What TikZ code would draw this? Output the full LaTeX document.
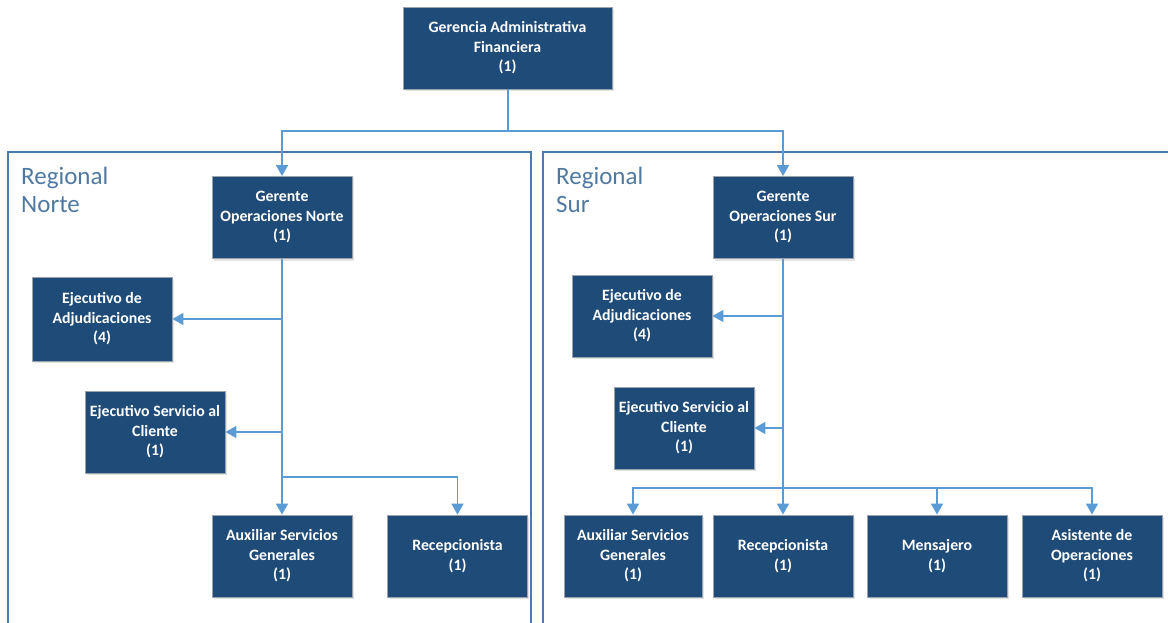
\documentclass[tikz,border=0pt]{standalone}
\usepackage{fontspec}
\setmainfont{Carlito}
\usetikzlibrary{arrows.meta,shadows}

\definecolor{boxblue}{HTML}{1F4B78}
\definecolor{boxedge}{HTML}{9AA3AD}
\definecolor{linkblue}{HTML}{5B9BD5}
\definecolor{regionedge}{HTML}{4C7BAA}
\definecolor{regiontext}{HTML}{5079A2}

\tikzset{
  post/.style={rectangle, fill=boxblue, draw=boxedge, line width=0.8pt,
    text=white, font=\fontsize{15.8}{19.5}\selectfont\bfseries,
    align=center, minimum width=140pt, minimum height=82pt, inner sep=1pt,
    drop shadow={opacity=0.22, shadow xshift=1.5pt, shadow yshift=-2pt}},
  link/.style={draw=linkblue, line width=1.6pt},
  arr/.style={link, -{Triangle[length=11pt,width=12pt]}},
  region/.style={draw=regionedge, line width=1.4pt},
  regionlabel/.style={anchor=north west, align=left, text=regiontext,
    font=\fontsize{25}{28.5}\selectfont, inner sep=0pt}
}

\begin{document}
\begin{tikzpicture}[x=1pt,y=-1pt]
  \useasboundingbox (0,0) rectangle (1168,623);
  \clip (0,0) rectangle (1168,623);

  % regional frames
  \draw[region] (8,152) rectangle (531,640);
  \draw[region] (543,152) rectangle (1190,640);
  \node[regionlabel] (lblN) at (21,166.5) {Regional\\Norte};
  \node[regionlabel] (lblS) at (556,166.5) {Regional\\Sur};

  % positions
  \node[post, minimum width=209pt] (top) at (507.5,48)
    {Gerencia Administrativa\\Financiera\\(1)};

  \node[post] (gn)   at (282,217.5) {Gerente\\Operaciones Norte\\(1)};
  \node[post, minimum height=84pt] (ean) at (102,319) {Ejecutivo de\\Adjudicaciones\\(4)};
  \node[post] (escn) at (155,432) {Ejecutivo Servicio al\\Cliente\\(1)};
  \node[post] (auxn) at (282,556) {Auxiliar Servicios\\Generales\\(1)};
  \node[post] (recn) at (457.5,556) {Recepcionista\\(1)};

  \node[post] (gs)   at (783,217.5) {Gerente\\Operaciones Sur\\(1)};
  \node[post] (eas)  at (642,316) {Ejecutivo de\\Adjudicaciones\\(4)};
  \node[post] (escs) at (684,428) {Ejecutivo Servicio al\\Cliente\\(1)};
  \node[post, minimum width=138pt] (auxs) at (633,556) {Auxiliar Servicios\\Generales\\(1)};
  \node[post] (recs) at (783,556) {Recepcionista\\(1)};
  \node[post] (mens) at (937,556) {Mensajero\\(1)};
  \node[post] (asis) at (1092,556) {Asistente de\\Operaciones\\(1)};

  % junction points
  \coordinate (bus0) at (508,131);
  \coordinate (busN) at (282,477);
  \coordinate (busS) at (783,488);

  % top level
  \draw[link] (top.south -| bus0) -- (bus0);
  \draw[arr] (bus0) -| (gn.north);
  \draw[arr] (bus0) -| (gs.north);

  % Norte
  \draw[arr] (gn.south) -- (auxn.north);
  \draw[arr] (gn.south |- ean.east) -- (ean.east);
  \draw[arr] (gn.south |- escn.east) -- (escn.east);
  \draw[arr] (busN) -| (recn.north);

  % Sur
  \draw[arr] (gs.south) -- (recs.north);
  \draw[arr] (gs.south |- eas.east) -- (eas.east);
  \draw[arr] (gs.south |- escs.east) -- (escs.east);
  \draw[arr] (busS) -| (auxs.north);
  \draw[arr] (busS) -| (mens.north);
  \draw[arr] (busS) -| (asis.north);
\end{tikzpicture}
\end{document}
